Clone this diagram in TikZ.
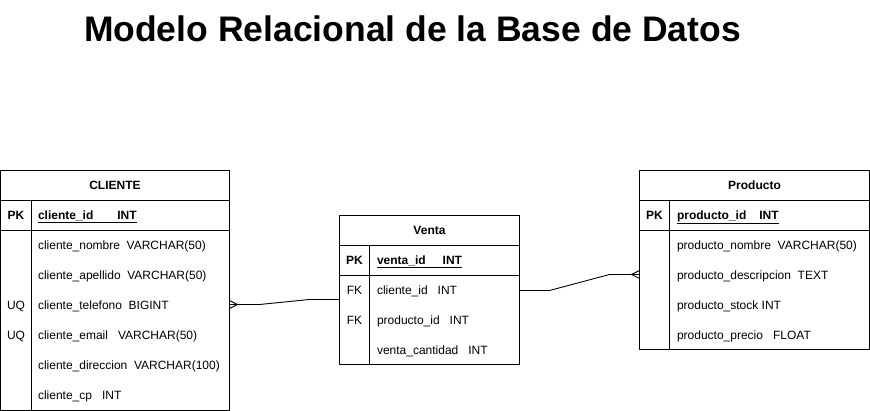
\documentclass[tikz,border=0pt]{standalone}
\usepackage{fontspec}
\setmainfont{Liberation Sans}
\begin{document}
\begin{tikzpicture}[x=1pt,y=-1pt,line width=0.9pt,
  every node/.style={inner sep=0pt,outer sep=0pt},
  tbl/.style={draw,anchor=north west,minimum width=#1},
  hdr/.style={anchor=base,font=\fontsize{12}{14}\selectfont\bfseries},
  fld/.style={anchor=base west,font=\fontsize{12}{14}\selectfont},
  keyl/.style={anchor=base,font=\fontsize{12}{14}\selectfont},
  pkl/.style={anchor=base,font=\fontsize{12}{14}\selectfont\bfseries},
  pkf/.style={anchor=base west,font=\fontsize{12}{14}\selectfont\bfseries},
  conn/.style={draw,line width=0.9pt}]
\useasboundingbox (0,0) rectangle (870,411);

% title
\node[anchor=base west,font=\fontsize{35.5}{40}\selectfont\bfseries] (title) at (84,42) {Modelo Relacional de la Base de Datos};

% ---------- CLIENTE ----------
\draw (0.5,170.5) rectangle (229.5,410.5);
\draw (0.5,200.5) -- (229.5,200.5);
\draw (0.5,230.5) -- (229.5,230.5);
\draw (31.5,200.5) -- (31.5,410.5);
\node[hdr] (cliH) at (115,189.3) {CLIENTE};
\node[pkl] (cliPK) at (16,219.3) {PK};
\node[pkf] (cliId) at (38,219.3) {\underline{cliente\_id\hspace{24pt}INT}};
\node[fld] (cli1) at (38,249.3) {cliente\_nombre\ \ VARCHAR(50)};
\node[fld] (cli2) at (38,279.3) {cliente\_apellido\ \ VARCHAR(50)};
\node[keyl] (cliUQ1) at (16,309.3) {UQ};
\node[fld] (cli3) at (38,309.3) {cliente\_telefono\ \ BIGINT};
\node[keyl] (cliUQ2) at (16,339.3) {UQ};
\node[fld] (cli4) at (38,339.3) {cliente\_email\ \ \ VARCHAR(50)};
\node[fld] (cli5) at (38,369.3) {cliente\_direccion\ \ VARCHAR(100)};
\node[fld] (cli6) at (38,399.3) {cliente\_cp\ \ \ INT};

% ---------- Venta ----------
\draw (339.5,215.5) rectangle (519.5,364.5);
\draw (339.5,245.5) -- (519.5,245.5);
\draw (339.5,275.5) -- (519.5,275.5);
\draw (369.5,245.5) -- (369.5,364.5);
\node[hdr] (venH) at (429.5,234.3) {Venta};
\node[pkl] (venPK) at (354.5,264.3) {PK};
\node[pkf] (venId) at (377,264.3) {\underline{venta\_id\hspace{17pt}INT}};
\node[keyl] (venFK1) at (354.5,294.3) {FK};
\node[fld] (ven1) at (377,294.3) {cliente\_id\ \ \ INT};
\node[keyl] (venFK2) at (354.5,324.3) {FK};
\node[fld] (ven2) at (377,324.3) {producto\_id\ \ \ INT};
\node[fld] (ven3) at (377,354.3) {venta\_cantidad\ \ \ INT};

% ---------- Producto ----------
\draw (639.5,170.5) rectangle (869.3,349.5);
\draw (639.5,200.5) -- (869.3,200.5);
\draw (639.5,230.5) -- (869.3,230.5);
\draw (669.5,200.5) -- (669.5,349.5);
\node[hdr] (proH) at (754.5,189.3) {Producto};
\node[pkl] (proPK) at (654.5,219.3) {PK};
\node[pkf] (proId) at (677,219.3) {\underline{producto\_id\hspace{13pt}INT}};
\node[fld] (pro1) at (677,249.3) {producto\_nombre\ \ VARCHAR(50)};
\node[fld] (pro2) at (677,279.3) {producto\_descripcion\ \ TEXT};
\node[fld] (pro3) at (677,309.3) {producto\_stock\ INT};
\node[fld] (pro4) at (677,339.3) {producto\_precio\ \ \ FLOAT};

% ---------- connectors ----------
\coordinate (a0) at (229.5,304.5);
\coordinate (a1) at (259.5,304.5);
\coordinate (a2) at (309.5,299.5);
\coordinate (a3) at (339.5,299.5);
\coordinate (av) at (237.5,304.5);
\coordinate (au) at (229.5,300.5);
\coordinate (ad) at (229.5,308.5);
\draw[conn] (a0) -- (a1) -- (a2) -- (a3);
\draw[conn] (au) -- (av) -- (ad);

\coordinate (b0) at (519.5,290.5);
\coordinate (b1) at (549.5,290.5);
\coordinate (b2) at (609.5,274.5);
\coordinate (b3) at (639.5,274.5);
\coordinate (bv) at (631.5,274.5);
\coordinate (bu) at (639.5,270.5);
\coordinate (bd) at (639.5,278.5);
\draw[conn] (b0) -- (b1) -- (b2) -- (b3);
\draw[conn] (bu) -- (bv) -- (bd);
\end{tikzpicture}
\end{document}
